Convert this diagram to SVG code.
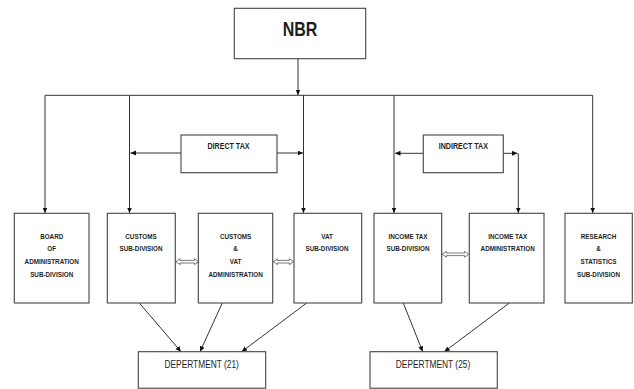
<svg xmlns="http://www.w3.org/2000/svg" width="634" height="389" viewBox="0 0 634 389">
<defs>
<marker id="ah" markerUnits="userSpaceOnUse" markerWidth="6" markerHeight="6" refX="5.5" refY="2.5" orient="auto">
<path d="M0,0 L5.5,2.5 L0,5 z" fill="#111"/>
</marker>
<style>
.box{fill:#fff;stroke:#444;stroke-width:1.1}
.ln{fill:none;stroke:#333;stroke-width:1}
.dbl{fill:#fff;stroke:#555;stroke-width:0.8}
text{font-family:"Liberation Sans",Arial,sans-serif;fill:#1e1e1e;text-anchor:middle}
.s{font-size:7.7px;font-weight:bold}
.m{font-size:8.9px;font-weight:bold}
.d{font-size:10.2px}
.big{font-size:20px;font-weight:bold}
</style>
</defs>
<rect width="634" height="389" fill="#fff"/>

<g id="connectors">
<line class="ln" x1="298" y1="59" x2="298" y2="95" marker-end="url(#ah)"/>
<line class="ln" x1="45" y1="95.3" x2="592.7" y2="95.3"/>
<line class="ln" x1="45" y1="95.3" x2="45" y2="213" marker-end="url(#ah)"/>
<line class="ln" x1="129.5" y1="95.3" x2="129.5" y2="213" marker-end="url(#ah)"/>
<line class="ln" x1="303.5" y1="95.3" x2="303.5" y2="213" marker-end="url(#ah)"/>
<line class="ln" x1="394" y1="95.3" x2="394" y2="213" marker-end="url(#ah)"/>
<line class="ln" x1="592.7" y1="95.3" x2="592.7" y2="213" marker-end="url(#ah)"/>
<line class="ln" x1="181" y1="153" x2="130.5" y2="153" marker-end="url(#ah)"/>
<line class="ln" x1="277" y1="153" x2="303" y2="153" marker-end="url(#ah)"/>
<line class="ln" x1="423.3" y1="153.3" x2="395" y2="153.3" marker-end="url(#ah)"/>
<line class="ln" x1="503.3" y1="153.3" x2="517.5" y2="153.3" marker-end="url(#ah)"/>
<line class="ln" x1="518.3" y1="153.3" x2="518.3" y2="213" marker-end="url(#ah)"/>
<line class="ln" x1="139.3" y1="303" x2="181" y2="351.7" marker-end="url(#ah)"/>
<line class="ln" x1="222.3" y1="303" x2="200" y2="351.7" marker-end="url(#ah)"/>
<line class="ln" x1="306.7" y1="303" x2="241.7" y2="351.7" marker-end="url(#ah)"/>
<line class="ln" x1="403.3" y1="303" x2="422.7" y2="351.7" marker-end="url(#ah)"/>
<line class="ln" x1="509.3" y1="303" x2="444.3" y2="351.7" marker-end="url(#ah)"/>
<polygon class="dbl" points="175.8,261.7 180,258.8 180,260.4 194.5,260.4 194.5,258.8 198.7,261.7 194.5,264.6 194.5,263 180,263 180,264.6"/>
<polygon class="dbl" points="273.2,261.7 277.4,258.8 277.4,260.4 289.4,260.4 289.4,258.8 293.6,261.7 289.4,264.6 289.4,263 277.4,263 277.4,264.6"/>
<polygon class="dbl" points="442.2,254.3 446.4,251.4 446.4,253 464.6,253 464.6,251.4 468.8,254.3 464.6,257.2 464.6,255.6 446.4,255.6 446.4,257.2"/>
</g>

<g id="nbr">
<rect class="box" x="234.3" y="8.3" width="131.4" height="50.4"/>
<text class="big" transform="translate(300 36) scale(0.8 1)">NBR</text>
</g>

<g id="direct-tax">
<rect class="box" x="181" y="135" width="96" height="37.7"/>
<text class="m" transform="translate(228.5 149.3) scale(0.8 1)">DIRECT TAX</text>
</g>

<g id="indirect-tax">
<rect class="box" x="423.3" y="135" width="80" height="37.7"/>
<text class="m" transform="translate(463.3 149.3) scale(0.8 1)">INDIRECT TAX</text>
</g>

<g id="board">
<rect class="box" x="14.3" y="213.3" width="74.7" height="89.7"/>
<text class="s" transform="translate(51.7 238.5) scale(0.82 1)">BOARD</text>
<text class="s" transform="translate(51.7 251) scale(0.82 1)">OF</text>
<text class="s" transform="translate(51.7 264) scale(0.82 1)">ADMINISTRATION</text>
<text class="s" transform="translate(51.7 276.5) scale(0.82 1)">SUB-DIVISION</text>
</g>

<g id="customs">
<rect class="box" x="107.3" y="213.3" width="68" height="89.7"/>
<text class="s" transform="translate(141 238.5) scale(0.82 1)">CUSTOMS</text>
<text class="s" transform="translate(141 251) scale(0.82 1)">SUB-DIVISION</text>
</g>

<g id="customs-vat">
<rect class="box" x="198.3" y="213.3" width="74.4" height="89.7"/>
<text class="s" transform="translate(235.6 238.5) scale(0.82 1)">CUSTOMS</text>
<text class="s" transform="translate(235.6 251) scale(0.82 1)">&amp;</text>
<text class="s" transform="translate(235.6 264) scale(0.82 1)">VAT</text>
<text class="s" transform="translate(235.6 276.5) scale(0.82 1)">ADMINISTRATION</text>
</g>

<g id="vat">
<rect class="box" x="294" y="213.3" width="67.7" height="89.7"/>
<text class="s" transform="translate(327 238.5) scale(0.82 1)">VAT</text>
<text class="s" transform="translate(327 251) scale(0.82 1)">SUB-DIVISION</text>
</g>

<g id="income-tax">
<rect class="box" x="374" y="213.3" width="67.7" height="89.7"/>
<text class="s" transform="translate(408 238.5) scale(0.82 1)">INCOME TAX</text>
<text class="s" transform="translate(408 251) scale(0.82 1)">SUB-DIVISION</text>
</g>

<g id="income-tax-admin">
<rect class="box" x="469.3" y="213.3" width="74.7" height="89.7"/>
<text class="s" transform="translate(507.7 238.5) scale(0.82 1)">INCOME TAX</text>
<text class="s" transform="translate(507.7 251) scale(0.82 1)">ADMINISTRATION</text>
</g>

<g id="research">
<rect class="box" x="565" y="213.3" width="67.3" height="89.7"/>
<text class="s" transform="translate(598.5 238.5) scale(0.82 1)">RESEARCH</text>
<text class="s" transform="translate(598.5 251) scale(0.82 1)">&amp;</text>
<text class="s" transform="translate(598.5 264) scale(0.82 1)">STATISTICS</text>
<text class="s" transform="translate(598.5 276.5) scale(0.82 1)">SUB-DIVISION</text>
</g>

<g id="dept21">
<rect class="box" x="138.3" y="351.7" width="127.4" height="36.5"/>
<text class="d" transform="translate(201.7 368.3) scale(0.82 1)">DEPERTMENT (21)</text>
</g>

<g id="dept25">
<rect class="box" x="370" y="351.7" width="127.3" height="36.5"/>
<text class="d" transform="translate(433 368.3) scale(0.82 1)">DEPERTMENT (25)</text>
</g>
</svg>
